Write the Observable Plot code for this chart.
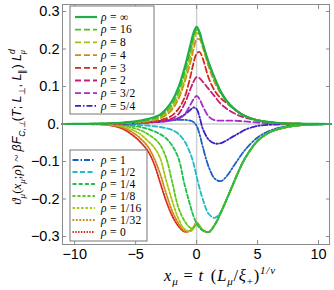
<!DOCTYPE html>
<html><head><meta charset="utf-8">
<script src="https://cdn.jsdelivr.net/npm/d3@7"></script>
<script src="https://cdn.jsdelivr.net/npm/@observablehq/plot@0.6"></script>
<style>body{margin:0;background:#fff}</style>
</head><body><div id="chart"></div>
<script>
const xs = [-11, -9, -8, -7, -6, -5, -4.5, -4, -3.5, -3, -2.5, -2, -1.5, -1, -0.5, -0.25, 0, 0.25, 0.5, 1, 1.5, 2, 2.5, 3, 3.5, 4, 5, 6, 7, 8, 9, 11];

const yInf = [0, 0.0005, 0.001, 0.002, 0.004, 0.007, 0.01, 0.013, 0.018, 0.025, 0.04, 0.062, 0.097, 0.148, 0.212, 0.243, 0.259, 0.244, 0.215, 0.163, 0.121, 0.085, 0.06, 0.043, 0.03, 0.021, 0.01, 0.005, 0.002, 0.001, 0.0005, 0];
const y16 = [0, 0.0005, 0.001, 0.002, 0.003, 0.006, 0.008, 0.011, 0.015, 0.021, 0.034, 0.053, 0.085, 0.135, 0.198, 0.232, 0.252, 0.24, 0.213, 0.162, 0.121, 0.085, 0.06, 0.043, 0.03, 0.021, 0.01, 0.005, 0.002, 0.001, 0.0005, 0];
const y8 = [0, 0, 0.0005, 0.001, 0.003, 0.005, 0.006, 0.009, 0.012, 0.018, 0.029, 0.045, 0.074, 0.118, 0.182, 0.22, 0.243, 0.236, 0.211, 0.16, 0.12, 0.085, 0.06, 0.043, 0.03, 0.021, 0.01, 0.005, 0.002, 0.001, 0.0005, 0];
const y4 = [0, 0, 0, 0.001, 0.002, 0.004, 0.005, 0.007, 0.01, 0.015, 0.024, 0.039, 0.066, 0.11, 0.165, 0.2, 0.225, 0.226, 0.205, 0.152, 0.11, 0.081, 0.059, 0.043, 0.03, 0.021, 0.01, 0.005, 0.002, 0.001, 0.0005, 0];
const y3 = [0, 0, 0, 0.001, 0.002, 0.003, 0.004, 0.005, 0.007, 0.01, 0.015, 0.023, 0.04, 0.07, 0.128, 0.163, 0.188, 0.192, 0.175, 0.122, 0.088, 0.068, 0.055, 0.042, 0.03, 0.021, 0.01, 0.005, 0.002, 0.001, 0.0005, 0];
const y2 = [0, 0, 0, 0.001, 0.002, 0.003, 0.004, 0.005, 0.006, 0.008, 0.011, 0.015, 0.026, 0.053, 0.094, 0.113, 0.125, 0.122, 0.113, 0.093, 0.073, 0.053, 0.04, 0.03, 0.022, 0.017, 0.009, 0.004, 0.002, 0.001, 0, 0];
const y3h = [0, 0, 0, 0.0005, 0.001, 0.002, 0.003, 0.004, 0.005, 0.006, 0.007, 0.01, 0.014, 0.025, 0.052, 0.066, 0.075, 0.066, 0.048, 0.02, 0.01, 0.009, 0.009, 0.009, 0.008, 0.007, 0.004, 0.002, 0.001, 0, 0, 0];
const y5q = [0, 0, 0, 0.0005, 0.001, 0.002, 0.003, 0.004, 0.005, 0.006, 0.008, 0.011, 0.016, 0.025, 0.038, 0.044, 0.04, 0.018, -0.012, -0.042, -0.052, -0.051, -0.043, -0.033, -0.024, -0.015, -0.005, -0.002, -0.001, 0, 0, 0];
const y1 = [0, 0, 0.0005, 0.001, 0.002, 0.004, 0.005, 0.006, 0.007, 0.008, 0.009, 0.01, 0.011, 0.011, 0.009, 0.005, -0.005, -0.028, -0.06, -0.115, -0.146, -0.152, -0.138, -0.114, -0.09, -0.068, -0.036, -0.018, -0.008, -0.004, -0.002, 0];
const yHalf = [0, 0, 0, -0.0005, -0.001, -0.002, -0.003, -0.004, -0.006, -0.008, -0.011, -0.016, -0.026, -0.045, -0.08, -0.105, -0.14, -0.172, -0.2, -0.24, -0.25, -0.234, -0.198, -0.16, -0.122, -0.09, -0.045, -0.022, -0.011, -0.005, -0.002, 0];
const yQuarter = [0, 0, 0, -0.0005, -0.002, -0.006, -0.009, -0.013, -0.019, -0.027, -0.038, -0.058, -0.09, -0.16, -0.22, -0.246, -0.265, -0.277, -0.284, -0.288, -0.268, -0.235, -0.198, -0.16, -0.122, -0.09, -0.045, -0.022, -0.011, -0.005, -0.002, 0];
const yEighth = [0, 0, 0, -0.001, -0.004, -0.012, -0.018, -0.027, -0.038, -0.055, -0.09, -0.155, -0.222, -0.258, -0.277, -0.276, -0.268, -0.274, -0.283, -0.288, -0.268, -0.235, -0.198, -0.16, -0.122, -0.09, -0.045, -0.022, -0.011, -0.005, -0.002, 0];
const y16th = [0, 0, 0, -0.002, -0.007, -0.02, -0.03, -0.045, -0.062, -0.09, -0.15, -0.205, -0.252, -0.28, -0.286, -0.278, -0.264, -0.272, -0.283, -0.288, -0.268, -0.235, -0.198, -0.16, -0.122, -0.09, -0.045, -0.022, -0.011, -0.005, -0.002, 0];
const y32nd = [0, 0, -0.0005, -0.003, -0.01, -0.028, -0.042, -0.06, -0.09, -0.132, -0.185, -0.232, -0.265, -0.285, -0.285, -0.276, -0.263, -0.272, -0.283, -0.288, -0.268, -0.235, -0.198, -0.16, -0.122, -0.09, -0.045, -0.022, -0.011, -0.005, -0.002, 0];
const y0 = [0, -0.0005, -0.001, -0.004, -0.014, -0.036, -0.052, -0.072, -0.105, -0.155, -0.205, -0.245, -0.272, -0.287, -0.284, -0.275, -0.263, -0.272, -0.283, -0.288, -0.268, -0.235, -0.198, -0.16, -0.122, -0.09, -0.045, -0.022, -0.011, -0.005, -0.002, 0];

const xTicks = [-10, -5, 0, 5, 10];
const xTickLabels = ["−10", "−5", "0", "5", "10"];
const yTicks = [-0.3, -0.2, -0.1, 0, 0.1, 0.2, 0.3];
const yTickLabels = ["−0.3", "−0.2", "−0.1", "0.", "0.1", "0.2", "0.3"];

const upperLabels = ["∞", "16", "8", "4", "3", "2", "3/2", "5/4"];
const upperData = [yInf, y16, y8, y4, y3, y2, y3h, y5q];
const upperColors = ["#1fae48", "#4cc020", "#a6bf12", "#d08a12", "#d42a1c", "#c81c78", "#a22cc6", "#3a22c0"];
const upperDash = [null, "6,3", "6,3", "6,3", "6,3", "6,3", "6,3", "6,2,1.5,2"];

const lowerLabels = ["1", "1/2", "1/4", "1/8", "1/16", "1/32", "0"];
const lowerData = [y1, yHalf, yQuarter, yEighth, y16th, y32nd, y0];
const lowerColors = ["#1f5ec6", "#1fbcc6", "#1fbf4a", "#5cc81e", "#a8c818", "#d0861a", "#d82a1c"];
const lowerDash = ["6,2,1.5,2", "5,2.5", "4,2.2", "3,2", "2.5,1.8", "1.8,1.6", "1.4,1.4"];

function seriesMark(ys, color, dash, w) {
  return Plot.line(xs.map((x, i) => ({x, y: ys[i]})), {
    x: "x", y: "y", stroke: color, strokeWidth: w,
    strokeDasharray: dash || undefined, curve: "catmull-rom"
  });
}

const lowerOrder = [0, 1, 6, 5, 4, 3, 2];
const upperOrder = [7, 6, 5, 4, 3, 2, 1, 0];

const chart = Plot.plot({
  width: 334, height: 290,
  marginLeft: 62, marginRight: 5, marginTop: 4, marginBottom: 46,
  x: {domain: [-11, 10.9]},
  y: {domain: [-0.3213, 0.3187]},
  style: {fontFamily: "Liberation Sans, Arial, sans-serif", fontSize: "14.5px", background: "white", overflow: "visible"},
  marks: [
    Plot.ruleX([0], {stroke: "#cfcfcf", strokeWidth: 1.4}),
    Plot.ruleY([0], {stroke: "#cfcfcf", strokeWidth: 1.4}),
    ...lowerOrder.map(k => seriesMark(lowerData[k], lowerColors[k], lowerDash[k], 1.8)),
    ...upperOrder.map(k => seriesMark(upperData[k], upperColors[k], upperDash[k], k === 0 ? 2.2 : 1.8)),
    Plot.frame({stroke: "#8a8a8a"}),
    Plot.axisX(xTicks, {anchor: "bottom", label: null, tickSize: -4, tickPadding: 8.5, stroke: "#8a8a8a", fill: "black", tickFormat: d => xTickLabels[xTicks.indexOf(d)]}),
    Plot.axisX(xTicks, {anchor: "top", label: null, tickSize: -4, stroke: "#8a8a8a", tickFormat: () => ""}),
    Plot.axisY(yTicks, {anchor: "left", label: null, tickSize: -4, tickPadding: 7, stroke: "#8a8a8a", fill: "black", tickFormat: d => yTickLabels[yTicks.indexOf(d)]}),
    Plot.axisY(yTicks, {anchor: "right", label: null, tickSize: -4, stroke: "#8a8a8a", tickFormat: () => ""})
  ]
});
document.getElementById("chart").appendChild(chart);

const svg = d3.select(chart);

function legend(x0, y0, w, h, rowY, step, lx1, lx2, labels, colors, dashes) {
  const g = svg.append("g");
  g.append("rect").attr("x", x0).attr("y", y0).attr("width", w).attr("height", h)
    .attr("fill", "white").attr("stroke", "#777").attr("stroke-width", 1);
  labels.forEach((lab, i) => {
    const yy = rowY + i * step;
    g.append("line").attr("x1", lx1).attr("x2", lx2).attr("y1", yy).attr("y2", yy)
      .attr("stroke", colors[i]).attr("stroke-width", i === 0 && dashes[i] == null ? 2.2 : 1.8)
      .attr("stroke-dasharray", dashes[i]);
    const t = g.append("text").attr("x", 101).attr("y", yy).attr("dy", "0.33em")
      .attr("text-anchor", "start")
      .style("font-family", "Liberation Serif, Times New Roman, serif").style("font-size", "11.5px")
      .style("letter-spacing", "0.3px");
    t.append("tspan").style("font-style", "italic").text("ρ");
    t.append("tspan").text(" = " + lab);
  });
}
legend(70, 6, 84, 108, 17, 12.7, 75, 97, upperLabels, upperColors, upperDash);
legend(70, 150, 77, 91, 160, 12, 72.5, 95, lowerLabels, lowerColors, lowerDash);

function part(t, s, opts = {}) {
  const ts = t.append("tspan").text(s);
  if (opts.italic) ts.style("font-style", "italic");
  if (opts.dy) ts.attr("dy", opts.dy);
  if (opts.dx) ts.attr("dx", opts.dx);
  if (opts.size) ts.style("font-size", opts.size);
  if (opts.family) ts.style("font-family", opts.family);
  return ts;
}

// x-axis label
const xl = svg.append("text").attr("x", 220).attr("y", 281).attr("text-anchor", "middle")
  .style("font-family", "Liberation Serif, Times New Roman, serif").style("font-size", "16.5px")
  .style("letter-spacing", "0.8px");
part(xl, "x", {italic: true});
part(xl, "μ", {italic: true, dy: 4, size: "11px"});
part(xl, " = ", {dy: -4});
part(xl, "t", {italic: true});
part(xl, " (", {dx: 2});
part(xl, "L", {italic: true});
part(xl, "μ", {italic: true, dy: 4, size: "11px"});
part(xl, "/", {dy: -4});
part(xl, "ξ", {italic: true});
part(xl, "+", {dy: 4, size: "11px"});
part(xl, ")", {dy: -4});
part(xl, "1/ν", {italic: true, dy: -7, size: "11px"});

// y-axis label
const yl = svg.append("text").attr("transform", "translate(21,127) rotate(-90)").attr("text-anchor", "middle")
  .style("font-family", "Liberation Serif, Times New Roman, serif").style("font-size", "13px");
const sans = "Liberation Sans, Arial, sans-serif";
part(yl, "ϑ", {italic: true});
part(yl, "μ", {italic: true, dy: 4, size: "9px"});
part(yl, "(", {dy: -4});
part(yl, "x", {italic: true});
part(yl, "μ", {italic: true, dy: 4, size: "9px"});
part(yl, ";", {dy: -4});
part(yl, "ρ", {italic: true});
part(yl, ") ~ ");
part(yl, "βF", {italic: true, family: sans, size: "12.5px"});
part(yl, "C,⊥", {italic: true, dy: 4, size: "8.5px", family: sans});
part(yl, "(", {dy: -4, family: sans, size: "12.5px"});
part(yl, "T", {italic: true, family: sans, size: "12.5px"});
part(yl, "; ", {family: sans, size: "12.5px"});
part(yl, "L", {italic: true, family: sans, size: "12.5px"});
part(yl, "⊥", {dy: 4, size: "8.5px", family: sans});
part(yl, ", ", {dy: -4, family: sans, size: "12.5px"});
part(yl, "L", {italic: true, family: sans, size: "12.5px"});
part(yl, "∥", {dy: 4, size: "8.5px", family: sans});
part(yl, ") ", {dy: -4, family: sans, size: "12.5px"});
part(yl, "L", {italic: true, family: sans, size: "12.5px"});
part(yl, "d", {italic: true, dy: -6, size: "8.5px", family: sans});
part(yl, "μ", {italic: true, dy: 10, dx: -5, size: "8.5px"});
</script>
</body></html>
